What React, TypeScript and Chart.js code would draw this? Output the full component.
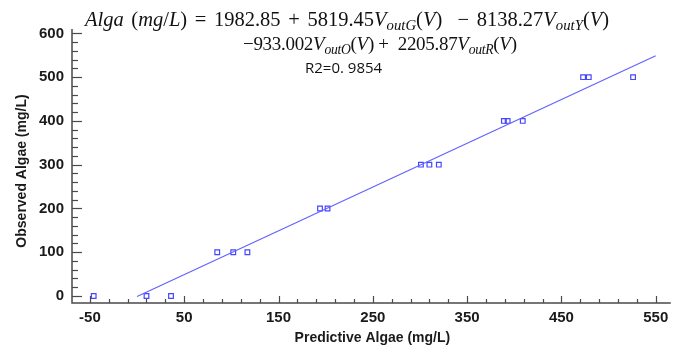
import React, { useEffect, useRef } from 'react';
import { Chart, registerables } from 'chart.js';
Chart.register(...registerables);

// ---- data ----
const predictedAlgae = [-46, 10, 36, 85, 102, 117, 194, 202, 301, 310, 320, 389, 393, 409, 473, 479, 526];
const observedAlgae = [0, 0, 0, 100, 100, 100, 200, 200, 300, 300, 300, 400, 400, 400, 500, 500, 500];
const fitLineX = [0, 550];
const fitLineY = [-1, 549];
const xTickLabels = [-50, 50, 150, 250, 350, 450, 550];
const yTickLabels = [0, 100, 200, 300, 400, 500, 600];
const minorStep = 20;
const xTitle = 'Predictive Algae (mg/L)';
const yTitle = 'Observed Algae (mg/L)';
const r2Text = 'R2=0. 9854';

const AXIS_COLOR = '#4a4a4a';
const POINT_COLOR = '#4646ff';
const LINE_COLOR = '#6262ff';

function buildTicks(min: number, max: number, majors: number[]) {
  const vals: number[] = [];
  const start = majors[0];
  for (let v = start; v >= min; v -= minorStep) vals.unshift(v);
  vals.pop();
  for (let v = start; v <= max; v += minorStep) vals.push(v);
  return vals;
}

const axesPlugin = {
  id: 'customAxes',
  afterDraw(chart: any) {
    const { ctx, chartArea, scales } = chart;
    const xs = scales.x;
    const ys = scales.y;
    ctx.save();
    ctx.strokeStyle = AXIS_COLOR;
    ctx.lineWidth = 1.5;
    ctx.beginPath();
    ctx.moveTo(chartArea.left, chartArea.top);
    ctx.lineTo(chartArea.left, chartArea.bottom);
    ctx.lineTo(chartArea.right, chartArea.bottom);
    ctx.stroke();
    ctx.lineWidth = 1.2;
    xs.ticks.forEach((t: any) => {
      const major = xTickLabels.includes(t.value);
      const px = Math.round(xs.getPixelForValue(t.value)) + 0.5;
      const len = major ? 7 : 4;
      ctx.beginPath();
      ctx.moveTo(px, chartArea.bottom);
      ctx.lineTo(px, chartArea.bottom - len);
      ctx.stroke();
    });
    ys.ticks.forEach((t: any) => {
      const major = yTickLabels.includes(t.value);
      const py = Math.round(ys.getPixelForValue(t.value)) + 0.5;
      const len = major ? 10 : 6;
      ctx.beginPath();
      ctx.moveTo(chartArea.left, py);
      ctx.lineTo(chartArea.left + len, py);
      ctx.stroke();
    });
    ctx.fillStyle = '#1a1a1a';
    ctx.font = 'bold 14px "Liberation Sans", Arial, sans-serif';
    ctx.textAlign = 'center';
    ctx.textBaseline = 'middle';
    ctx.fillText(xTitle, (chartArea.left + chartArea.right) / 2 + 1, 338);
    ctx.save();
    ctx.translate(22, 171);
    ctx.rotate(-Math.PI / 2);
    ctx.fillText(yTitle, 0, 0);
    ctx.restore();
    ctx.restore();
  },
};

export default function App() {
  const ref = useRef<HTMLCanvasElement>(null);
  useEffect(() => {
    document.body.style.margin = '0';
    const scatterData = predictedAlgae.map((x, i) => ({ x, y: observedAlgae[i] }));
    const lineData = fitLineX.map((x, i) => ({ x, y: fitLineY[i] }));
    const chart = new Chart(ref.current!, {
      type: 'scatter',
      data: {
        datasets: [
          {
            label: 'fit',
            data: lineData,
            showLine: true,
            borderColor: LINE_COLOR,
            borderWidth: 1.2,
            pointRadius: 0,
            fill: false,
          } as any,
          {
            label: 'obs',
            data: scatterData,
            pointStyle: 'rect',
            pointRadius: 3.3,
            pointBorderWidth: 1.2,
            pointBackgroundColor: 'rgba(255,255,255,0)',
            pointBorderColor: POINT_COLOR,
            borderColor: POINT_COLOR,
          } as any,
        ],
      },
      options: {
        responsive: false,
        animation: false,
        layout: { padding: { top: 29, right: 0, left: 0, bottom: 0 } },
        plugins: { legend: { display: false }, tooltip: { enabled: false }, title: { display: false } },
        scales: {
          x: {
            type: 'linear',
            min: -69,
            max: 566,
            grid: { display: false, drawTicks: false },
            border: { display: false },
            afterBuildTicks: (s: any) => {
              s.ticks = buildTicks(s.min, s.max, xTickLabels).map((v) => ({ value: v }));
            },
            afterFit: (s: any) => {
              s.height = 45;
            },
            ticks: {
              autoSkip: false,
              maxRotation: 0,
              padding: 6,
              color: '#1a1a1a',
              font: { family: '"Liberation Sans", Arial, sans-serif', size: 15, weight: 'bold' },
              callback: (v: any) => (xTickLabels.includes(Number(v)) ? String(v) : ''),
            },
          },
          y: {
            type: 'linear',
            min: -16,
            max: 610,
            grid: { display: false, drawTicks: false },
            border: { display: false },
            afterBuildTicks: (s: any) => {
              s.ticks = buildTicks(s.min, s.max, yTickLabels).map((v) => ({ value: v }));
            },
            afterFit: (s: any) => {
              s.width = 72;
            },
            ticks: {
              autoSkip: false,
              padding: 8,
              color: '#1a1a1a',
              font: { family: '"Liberation Sans", Arial, sans-serif', size: 15, weight: 'bold' },
              callback: (v: any) => (yTickLabels.includes(Number(v)) ? String(v) : ''),
            },
          },
        },
      },
      plugins: [axesPlugin],
    });
    return () => chart.destroy();
  }, []);

  const sub: React.CSSProperties = { fontSize: '0.72em', position: 'relative', top: '0.3em', fontStyle: 'italic' };
  const eqStyle: React.CSSProperties = {
    position: 'absolute',
    fontFamily: '"Liberation Serif", "DejaVu Serif", serif',
    whiteSpace: 'pre',
    color: '#111',
  };
  return (
    <div style={{ position: 'absolute', left: 0, top: 0, width: 676, height: 348, background: '#fff' }}>
      <canvas ref={ref} width={676} height={348} style={{ position: 'absolute', left: 0, top: 0, width: 676, height: 348 }} />
      <div style={{ ...eqStyle, top: 9, left: 85, fontSize: 20.5, lineHeight: '21px', wordSpacing: 2.5 }}>
        <i>Alga</i> (<i>mg</i>/<i>L</i>) = 1982.85 + 5819.45<i>V</i>
        <span style={sub}>outG</span>(<i>V</i>)  − 8138.27<i>V</i>
        <span style={sub}>outY</span>(<i>V</i>)
      </div>
      <div style={{ ...eqStyle, top: 34, left: 243, fontSize: 19, lineHeight: '20px', letterSpacing: -0.3 }}>
        −933.002<i>V</i>
        <span style={sub}>outO</span>(<i>V</i>) +  2205.87<i>V</i>
        <span style={sub}>outR</span>(<i>V</i>)
      </div>
      <div
        style={{
          position: 'absolute',
          top: 59,
          left: 305,
          fontFamily: '"Open Sans", "Liberation Sans", sans-serif',
          fontSize: 15,
          lineHeight: '17px',
          color: '#111',
          whiteSpace: 'pre',
        }}
      >
        {r2Text}
      </div>
    </div>
  );
}
